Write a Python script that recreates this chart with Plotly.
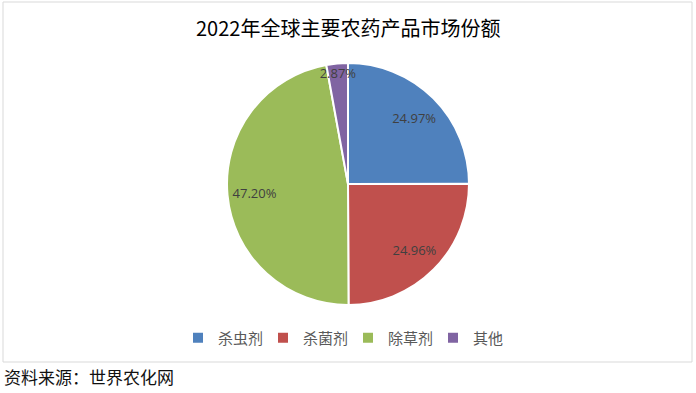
import plotly.graph_objects as go

title = "2022年全球主要农药产品市场份额"
categories = ["杀虫剂", "杀菌剂", "除草剂", "其他"]
shares = [24.97, 24.96, 47.20, 2.87]
colors = ["#4F81BD", "#C0504D", "#9BBB59", "#8064A2"]
source = "资料来源：世界农化网"

W, H = 696, 393
font_cjk = "Noto Sans CJK SC, sans-serif"
dom = dict(x=[227 / W, 469 / W], y=[1 - 305 / H, 1 - 63 / H])

fig = go.Figure()
fig.add_trace(go.Pie(
    labels=categories,
    values=shares,
    sort=False,
    direction="clockwise",
    rotation=0,
    marker=dict(colors=colors, line=dict(color="white", width=2)),
    textinfo="none",
    domain=dom,
    hoverinfo="label+percent",
))
# label layer: transparent ring so values sit nearer the rim
fig.add_trace(go.Pie(
    labels=categories,
    values=shares,
    sort=False,
    direction="clockwise",
    rotation=0,
    hole=0.55,
    marker=dict(colors=["rgba(0,0,0,0)"] * len(categories), line=dict(width=0)),
    texttemplate="%{value:.2f}%",
    textposition="inside",
    insidetextorientation="horizontal",
    textfont=dict(family="Open Sans, sans-serif", size=13, color="#404040"),
    domain=dom,
    showlegend=False,
    hoverinfo="skip",
))

fig.update_layout(
    width=W, height=H,
    margin=dict(l=0, r=0, t=0, b=0),
    paper_bgcolor="white",
    showlegend=True,
    uniformtext=dict(minsize=13, mode="show"),
    legend=dict(
        orientation="h", x=0.5, xanchor="center", y=1 - 338 / H, yanchor="middle",
        font=dict(family=font_cjk, size=15, color="#595959"),
        itemwidth=30, traceorder="normal",
        entrywidth=40, entrywidthmode="pixels",
    ),
    shapes=[dict(
        type="rect", xref="paper", yref="paper",
        x0=3 / W, x1=692 / W, y0=1 - 362 / H, y1=1 - 2 / H,
        line=dict(color="#D9D9D9", width=1), fillcolor="rgba(0,0,0,0)",
    )],
    annotations=[
        dict(text=title, xref="paper", yref="paper", x=0.5, y=1 - 28 / H,
             xanchor="center", yanchor="middle", showarrow=False,
             font=dict(family=font_cjk, size=20, color="#000000")),
        dict(text=source, xref="paper", yref="paper", x=2 / W, y=1 - 376 / H,
             xanchor="left", yanchor="middle", showarrow=False,
             font=dict(family=font_cjk, size=17, color="#111111")),
    ],
)

fig.write_html("out.html", config={"displayModeBar": False},
               post_script="document.body.style.margin='0';document.body.style.padding='0';")
